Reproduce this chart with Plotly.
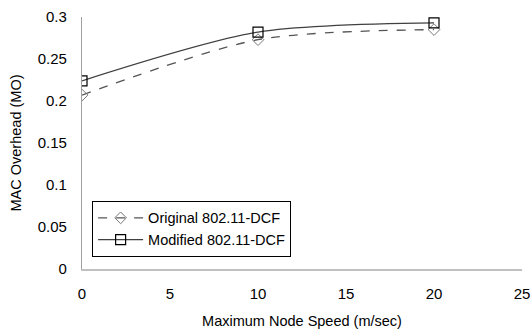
import plotly.graph_objects as go

speed = [0, 10, 20]
original = [0.207, 0.273, 0.285]
modified = [0.224, 0.282, 0.293]
x_ticks = [0, 5, 10, 15, 20, 25]
y_ticks = [0, 0.05, 0.1, 0.15, 0.2, 0.25, 0.3]

FONT = "Liberation Sans, Arial, sans-serif"

fig = go.Figure()
fig.add_trace(go.Scatter(
    x=speed, y=original, name="Original 802.11-DCF",
    mode="lines+markers", line=dict(color="#555555", width=1.3, dash="dash", shape="spline", smoothing=0.8),
    marker=dict(symbol="diamond-open", size=9, color="#777777", line=dict(width=1, color="#777777")),
))
fig.add_trace(go.Scatter(
    x=speed, y=modified, name="Modified 802.11-DCF",
    mode="lines+markers", line=dict(color="#404040", width=1.3, shape="spline", smoothing=0.8),
    marker=dict(symbol="square-open", size=10, color="#000000", line=dict(width=1.2, color="#000000")),
))

fig.update_layout(
    width=532, height=334,
    margin=dict(l=82, r=10, t=17, b=65),
    paper_bgcolor="white", plot_bgcolor="white",
    font=dict(family=FONT, size=15, color="#000000"),
    showlegend=True,
    legend=dict(
        x=0.023, y=0.048, xanchor="left", yanchor="bottom",
        bordercolor="#000000", borderwidth=1, bgcolor="white",
        font=dict(family=FONT, size=14.5, color="#000000"),
        tracegroupgap=0, itemsizing="trace", itemwidth=45,
    ),
    xaxis=dict(
        range=[0, 25], tickvals=x_ticks, showgrid=False, zeroline=False,
        showline=True, linecolor="#c0c0c0", linewidth=1.5, ticks="",
        ticklabelstandoff=10, automargin=False,
        title=dict(text="Maximum Node Speed (m/sec)", standoff=15, font=dict(size=14.5)),
    ),
    yaxis=dict(
        range=[0, 0.3], tickvals=y_ticks, showgrid=False, zeroline=False,
        showline=True, linecolor="#a0a0a0", linewidth=1.2, ticks="",
        ticklabelstandoff=11, automargin=False,
        title=dict(text="MAC Overhead (MO)", standoff=12, font=dict(size=14.5)),
    ),
)

fig.write_html(
    "out.html",
    config={"displayModeBar": False},
    post_script="document.body.style.margin='0';document.body.style.overflow='hidden';",
)
